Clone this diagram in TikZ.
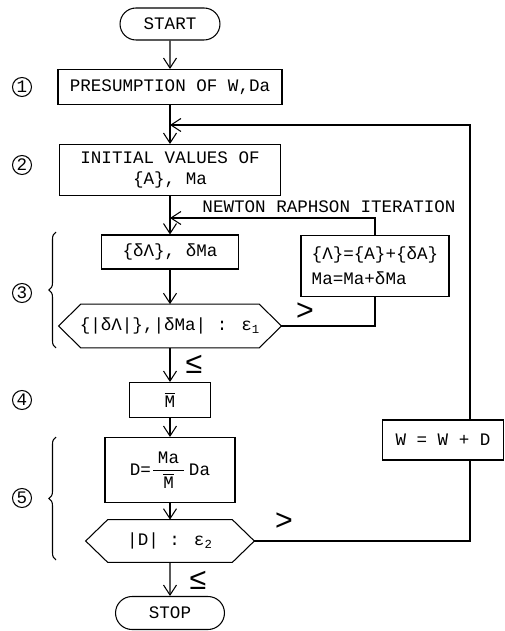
\documentclass[tikz,border=0pt]{standalone}
\usepackage{fontspec}
\setmainfont{Liberation Mono}
\usetikzlibrary{arrows.meta,shapes.misc,decorations.pathreplacing}
\tikzset{
	flow/.style={draw, semithick, inner sep=2pt, align=center},
	term/.style={flow, rounded rectangle, minimum width=2.14cm, minimum height=0.64cm},
	proc/.style={flow, rectangle},
	cond/.style={inner sep=0pt, minimum height=0.86cm},
	num/.style={draw, circle, semithick, minimum size=0.38cm, inner sep=0pt},
	link/.style={semithick, -{Straight Barb[length=2mm,width=2.6mm]}},
	line/.style={semithick},
	brc/.style={semithick, decorate, decoration={brace, amplitude=4pt}},
	rel/.style={font=\LARGE}
}
\newcommand{\hexbox}[1]{\draw[semithick] (#1.west) -- ([xshift=0.44cm]#1.north west) -- ([xshift=-0.44cm]#1.north east) -- (#1.east) -- ([xshift=-0.44cm]#1.south east) -- ([xshift=0.44cm]#1.south west) -- cycle;}
\begin{document}
\begin{tikzpicture}[x=0.02cm, y=-0.02cm, font=\fontsize{10}{12}\selectfont]
	\useasboundingbox (0,0) rectangle (504,631);
	\node[term] (start) at (170,24) {START};
	\node[proc, minimum width=4.48cm, minimum height=0.7cm] (pres) at (170,87) {PRESUMPTION OF W,Da};
	\node[proc, minimum width=4.42cm, minimum height=1.02cm] (init) at (170,170) {INITIAL VALUES OF\\\{A\}, Ma};
	\node[proc, minimum width=2.74cm, minimum height=0.68cm] (delta) at (170,252) {\{δΛ\}, δMa};
	\node[proc, align=left, minimum width=2.96cm, minimum height=1.22cm] (upd) at (375,266) {\{Λ\}=\{A\}+\{δA\}\\[2pt]Ma=Ma+δMa};
	\node[cond, minimum width=4.44cm] (conv) at (170,326) {\{|δΛ|\},|δMa| : ε\textsubscript{1}};
	\node[proc, minimum width=1.62cm, minimum height=0.7cm] (mbar) at (170,400) {$\overline{\mbox{M}}$};
	\node[proc, minimum width=2.6cm, minimum height=1.3cm] (dnew) at (170,470) {D=$\displaystyle\frac{\;\mbox{Ma}\;}{\overline{\mbox{M}}}$\,Da};
	\node[cond, minimum width=3.36cm, minimum height=0.84cm] (dtest) at (170,541) {|D| : ε\textsubscript{2}};
	\node[term, minimum width=2.32cm, minimum height=0.66cm] (stop) at (170,613) {STOP};
	\node[proc, minimum width=2.42cm, minimum height=0.8cm] (wupd) at (443,440) {W = W + D};
	\hexbox{conv}
	\hexbox{dtest}
	\coordinate (back) at (470,125);
	\coordinate (nrt) at (375,218);
	\node (nrlab) at (329,207) {NEWTON RAPHSON ITERATION};
	
	\foreach \n/\y in {1/87, 2/165, 3/293, 4/400, 5/498}
		\node[num] (c\n) at (22,\y) {\n};
	\draw[brc] (56,348) -- (56,232);
	\draw[brc] (56,560) -- (56,437);
	
	\draw[link] (start) -- (pres);
	\draw[link] (pres) -- (init);
	\draw[link] (wupd.north -| back) -- (back) -- (back -| pres.south);
	\draw[link] (init) -- (delta);
	\draw[link] (upd.north) -- (nrt) -- (nrt -| init.south);
	\draw[link] (delta) -- (conv);
	\draw[line] (conv.east) -| (upd.south);
	\draw[link] (conv) -- (mbar);
	\draw[link] (mbar) -- (dnew);
	\draw[link] (dnew) -- (dtest);
	\draw[line] (dtest.east) -| (wupd.south -| back);
	\draw[link] (dtest) -- (stop);
	\node[rel] (gt1) at (305,312) {>};
	\node[rel] (le1) at (194,364) {≤};
	\node[rel] (gt2) at (284,522) {>};
	\node[rel] (le2) at (198,580) {≤};
\end{tikzpicture}
\end{document}
